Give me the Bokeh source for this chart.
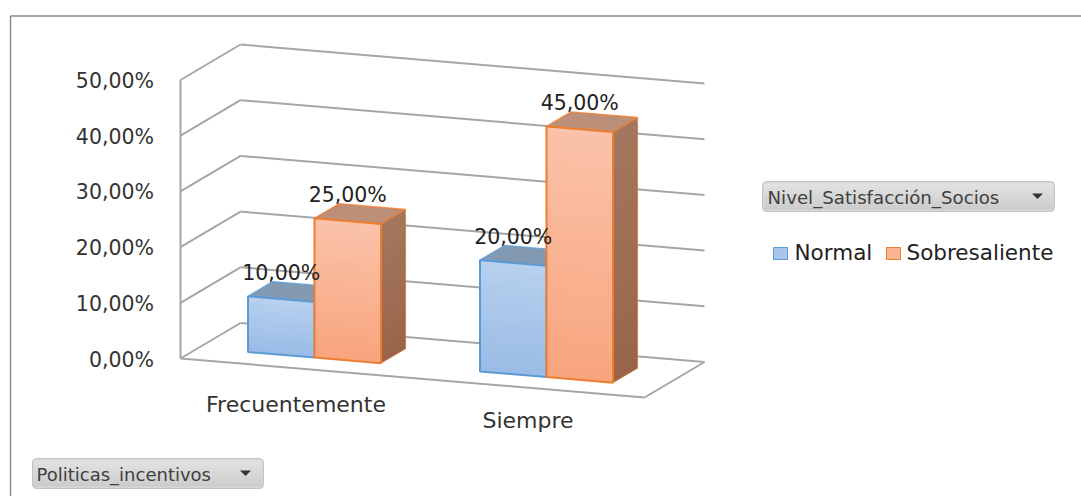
from bokeh.core.properties import value
from bokeh.embed import file_html
from bokeh.models import Range1d
from bokeh.plotting import figure
from bokeh.resources import INLINE

categories = ["Frecuentemente", "Siempre"]
series_names = ["Normal", "Sobresaliente"]
normal = [10, 20]
sobresaliente = [25, 45]
axis_ticks = [0, 10, 20, 30, 40, 50]
axis_labels = ["0,00%", "10,00%", "20,00%", "30,00%", "40,00%", "50,00%"]
bar_labels = [["10,00%", "20,00%"], ["25,00%", "45,00%"]]
pivot_series = "Nivel_Satisfacción_Socios"
pivot_category = "Politicas_incentivos"

FONT = "DejaVu Sans"
GRID = "#a6a6a6"


def project(u, d, v):
    """Oblique projection: u along the category axis, d into the depth, v is the percentage."""
    return (180 + 464 * u + 60 * d, 358 + 39 * u - 35.5 * d - 5.57 * v)


def mix(a, b, t):
    ca = [int(a[i:i + 2], 16) for i in (1, 3, 5)]
    cb = [int(b[i:i + 2], 16) for i in (1, 3, 5)]
    return "#%02x%02x%02x" % tuple(round(x + (y - x) * t) for x, y in zip(ca, cb))


p = figure(width=1081, height=496, output_backend="svg", toolbar_location=None,
           x_range=Range1d(0, 1081), y_range=Range1d(496, 0), min_border=0,
           x_axis_location=None, y_axis_location=None, outline_line_color=None,
           background_fill_color="white", border_fill_color="white")
p.grid.visible = False

# Outer frame of the chart area
p.line([10, 10, 1081], [496, 15.5, 15.5], line_color="#8c8c8c", line_width=1.5)


def segment(a, b):
    p.line([a[0], b[0]], [a[1], b[1]], line_color=GRID, line_width=2)


# Back wall gridlines, left wall and floor
for tick in axis_ticks:
    front = project(0, 0, tick)
    back = project(0, 1, tick)
    end = project(1, 1, tick)
    segment(front, back)
    segment(back, end)
segment(project(0, 0, 0), project(0, 0, axis_ticks[-1]))
segment(project(0, 0, 0), project(1, 0, 0))
segment(project(1, 0, 0), project(1, 1, 0))

p.text([153.5] * 6, [project(0, 0, t)[1] + 1 for t in axis_ticks], text=axis_labels,
       text_font=value(FONT), text_font_size="20.5px", text_color="#333333",
       text_align="right", text_baseline="middle")

BAR_U = 0.1433
BAR_D0, BAR_D1 = 0.30, 0.71
STYLES = [
    dict(line="#5b9bd5", top="#8399b2", side="#7f95ad", light="#b6d0ee", dark="#9bbce6"),
    dict(line="#ed7d31", top="#bc8f78", side="#a3775f", side2="#99654a",
         light="#fac2a9", dark="#f8a57e"),
]


def shaded_face(corner, val, light, dark):
    """Paint a face top-down in overlapping bands so the shading has no seams."""
    bands = max(2, round(val))
    xs, ys, cols = [], [], []
    for i in range(bands):
        v_hi = val * (1 - i / bands)
        v_lo = max(0, v_hi - val / bands - 1)
        c = corner(v_hi) + corner(v_lo)[::-1]
        xs.append([q[0] for q in c])
        ys.append([q[1] for q in c])
        cols.append(mix(light, dark, i / (bands - 1)))
    p.patches(xs, ys, fill_color=cols, line_color=None)


def draw_bar(u0, val, st):
    u1 = u0 + BAR_U
    shaded_face(lambda v: [project(u1, BAR_D0, v), project(u1, BAR_D1, v)], val,
                st["side"], st.get("side2", st["side"]))

    # Top face
    c = [project(u0, BAR_D0, val), project(u1, BAR_D0, val),
         project(u1, BAR_D1, val), project(u0, BAR_D1, val)]
    p.patch([q[0] for q in c], [q[1] for q in c], fill_color=st["top"],
            line_color=st["line"], line_width=1.5, line_alpha=0.8)

    shaded_face(lambda v: [project(u0, BAR_D0, v), project(u1, BAR_D0, v)], val,
                st["light"], st["dark"])

    c = [project(u0, BAR_D0, val), project(u1, BAR_D0, val),
         project(u1, BAR_D0, 0), project(u0, BAR_D0, 0)]
    p.patch([q[0] for q in c], [q[1] for q in c], fill_color=None,
            line_color=st["line"], line_width=2)
    c = [project(u1, BAR_D0, val), project(u1, BAR_D1, val),
         project(u1, BAR_D1, 0), project(u1, BAR_D0, 0)]
    p.line([q[0] for q in c], [q[1] for q in c], line_color=st["line"],
           line_width=1, line_alpha=0.6)


for k in range(len(categories)):
    centre = (k + 0.5) / len(categories)
    for s, vals in enumerate((normal, sobresaliente)):
        draw_bar(centre - BAR_U + s * BAR_U, vals[k], STYLES[s])

# Value labels sit above the front face of each bar
for s, vals in enumerate((normal, sobresaliente)):
    for k, val in enumerate(vals):
        centre = (k + 0.5) / len(categories)
        u_mid = centre - BAR_U + (s + 0.5) * BAR_U
        x, y = project(u_mid, BAR_D0, val)
        p.text([x], [y - 26], text=[bar_labels[s][k]], text_font=value(FONT),
               text_font_size="20.5px", text_color="#222222", text_align="center",
               text_baseline="middle")

# Category labels
p.text([295.5, 527.5], [404, 420], text=categories, text_font=value(FONT),
       text_font_size="22px", text_color="#333333", text_align="center",
       text_baseline="middle")


def pivot_button(x0, x1, y0, y1, label, text_x, arrow_x, size):
    p.quad(left=x0, right=x1, top=y0, bottom=y1, fill_color="#d6d6d6",
           line_color="#c4c4c4", line_width=1, border_radius=4)
    n = int(y1 - y0) - 4
    for i in range(n):
        y = y0 + 2 + i
        p.line([x0 + 1.5, x1 - 1.5], [y + 0.5, y + 0.5], line_width=1,
               line_color=mix("#e6e6e6", "#c9c9c9", i / (n - 1)))
    mid = (y0 + y1) / 2
    p.text([text_x], [mid + 1], text=[label], text_font=value(FONT),
           text_font_size=size, text_color="#404040", text_align="left",
           text_baseline="middle")
    p.patch([arrow_x - 5.5, arrow_x + 5.5, arrow_x], [mid - 3, mid - 3, mid + 2.5],
            fill_color="#333333", line_color=None)


pivot_button(762, 1054, 181, 211, pivot_series, 767, 1037, "18.2px")
pivot_button(32, 263, 458, 488, pivot_category, 36, 245, "18px")

# Legend
swatch_x = [773, 886]
text_x = [794, 906]
for i, name in enumerate(series_names):
    st = STYLES[i]
    p.quad(left=swatch_x[i], right=swatch_x[i] + 14, top=247, bottom=259,
           fill_color=mix(st["light"], st["dark"], 0.5), line_color=st["line"], line_width=1)
    p.text([text_x[i]], [252], text=[name], text_font=value(FONT), text_font_size="21.5px",
           text_color="#222222", text_align="left", text_baseline="middle")

open("out.html", "w").write(file_html(p, INLINE))
